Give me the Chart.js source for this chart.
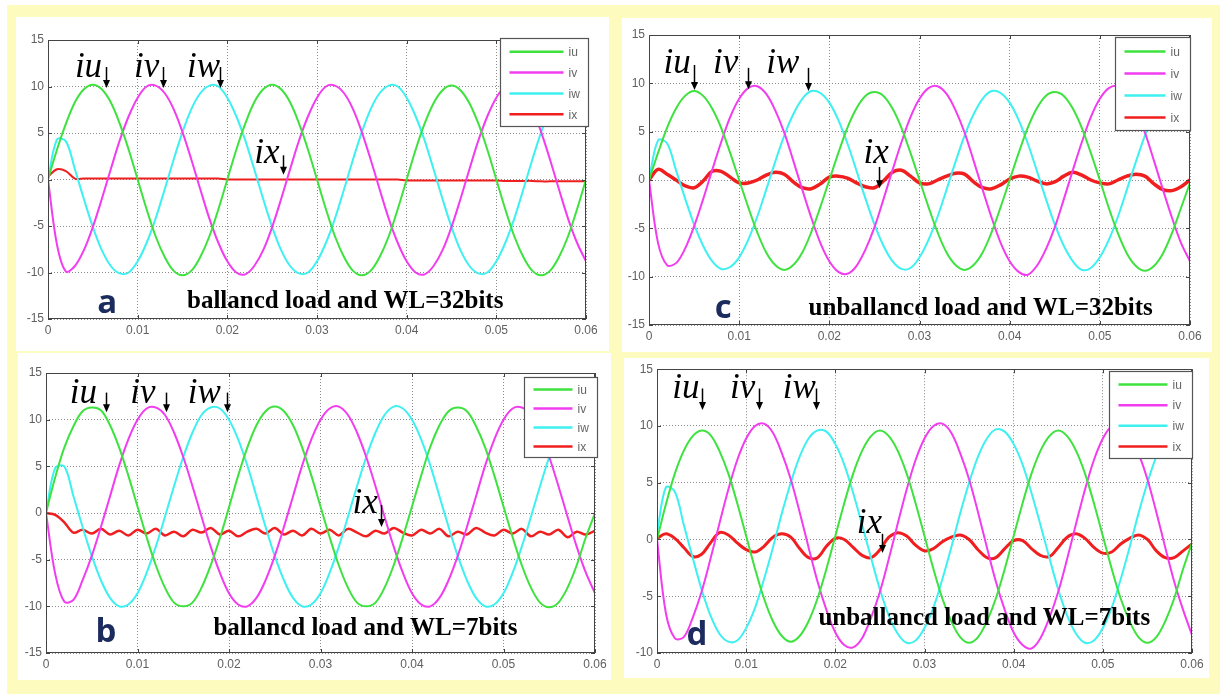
<!DOCTYPE html>
<html>
<head>
<meta charset="utf-8">
<script src="https://cdn.jsdelivr.net/npm/chart.js@4.4.1/dist/chart.umd.min.js"></script>
<style>
  html, body { margin: 0; padding: 0; background: #fff; }
  #frame { position: absolute; left: 7px; top: 5px; width: 1213px; height: 689px; background: #fefbbe; }
  canvas { position: absolute; background: #fff; }
</style>
</head>
<body>
<div id="frame"></div>
<canvas id="pa"></canvas>
<canvas id="pb"></canvas>
<canvas id="pc"></canvas>
<canvas id="pd"></canvas>
<script>
// time axis (s)
const time = [0,0.001,0.002,0.003,0.004,0.005,0.006,0.007,0.008,0.009,
  0.010,0.011,0.012,0.013,0.014,0.015,0.016,0.017,0.018,0.019,
  0.020,0.021,0.022,0.023,0.024,0.025,0.026,0.027,0.028,0.029,
  0.030,0.031,0.032,0.033,0.034,0.035,0.036,0.037,0.038,0.039,
  0.040,0.041,0.042,0.043,0.044,0.045,0.046,0.047,0.048,0.049,
  0.050,0.051,0.052,0.053,0.054,0.055,0.056,0.057,0.058,0.059,0.060];

const seriesNames = ["iu", "iv", "iw", "ix"];
const xTicks = [0, 0.01, 0.02, 0.03, 0.04, 0.05, 0.06];

// (a) balanced load, WL=32bits
const aIu = [0,3.2,6.0,8.3,9.7,10.2,9.7,8.3,6.0,3.2,0,-3.2,-6.1,-8.3,-9.8,-10.3,-9.8,-8.3,-6.1,-3.2,
  0,3.2,6.0,8.3,9.7,10.2,9.7,8.3,6.0,3.2,0,-3.2,-6.1,-8.3,-9.8,-10.3,-9.8,-8.3,-6.1,-3.2,
  0,3.2,6.0,8.2,9.6,10.1,9.6,8.2,6.0,3.2,0,-3.2,-6.1,-8.3,-9.8,-10.3,-9.8,-8.3,-6.1,-3.2,0];
const aIv = [0,-7.0,-9.9,-9.3,-7.6,-5.1,-2.1,1.1,4.2,6.8,8.8,10.0,10.1,9.3,7.6,5.1,2.1,-1.1,-4.2,-6.8,
  -8.8,-10.0,-10.2,-9.3,-7.6,-5.1,-2.1,1.1,4.2,6.8,8.8,10.0,10.1,9.3,7.6,5.1,2.1,-1.1,-4.2,-6.8,
  -8.8,-10.0,-10.2,-9.3,-7.6,-5.1,-2.1,1.1,4.2,6.8,8.8,10.0,10.1,9.3,7.6,5.1,2.1,-1.1,-4.2,-6.8,-8.8];
const aIw = [0,4.3,4.1,1.1,-2.1,-5.1,-7.6,-9.3,-10.1,-10.0,-8.8,-6.8,-4.2,-1.1,2.1,5.1,7.6,9.3,10.1,10.0,
  8.8,6.8,4.2,1.1,-2.1,-5.1,-7.6,-9.3,-10.1,-10.0,-8.8,-6.8,-4.2,-1.1,2.1,5.1,7.6,9.3,10.1,10.0,
  8.8,6.8,4.2,1.1,-2.1,-5.1,-7.6,-9.3,-10.1,-10.0,-8.8,-6.8,-4.2,-1.1,2.1,5.1,7.6,9.3,10.1,10.0,8.8];
const aIx = [0.3,1.1,0.9,0.1,0.1,0.1,0.1,0.1,0.1,0.1,0.1,0.1,0.1,0.1,0.1,0.1,0.1,0.1,0.1,0.1,
  0,0,0,0,0,0,0,0,0,0,0,0,0,0,0,0,0,0,0,0,
  -0.1,-0.1,-0.1,-0.1,-0.1,-0.1,-0.1,-0.1,-0.1,-0.1,-0.1,-0.15,-0.15,-0.15,-0.15,-0.2,-0.2,-0.2,-0.2,-0.2,-0.2];

// (b) balanced load, WL=7bits
const bIu = [0,3.8,7.0,9.3,10.9,11.3,11.0,9.4,7.0,4.0,0.7,-2.6,-5.6,-8.0,-9.6,-10.0,-9.6,-8.0,-5.6,-2.7,
  0.6,4.0,7.0,9.4,10.9,11.4,10.9,9.4,7.0,4.0,0.7,-2.6,-5.6,-8.0,-9.6,-10.0,-9.6,-8.0,-5.6,-2.6,
  0.7,4.0,7.1,9.4,10.9,11.3,10.9,9.3,7.0,4.0,0.7,-2.6,-5.6,-8.0,-9.6,-10.1,-9.6,-8.0,-5.6,-2.6,0];
const bIv = [0,-6.5,-9.5,-9.3,-7.2,-4.6,-1.5,1.8,5.1,7.9,10.0,11.2,11.3,10.5,8.6,6.0,2.9,-0.4,-3.6,-6.4,
  -8.6,-9.8,-10.0,-9.1,-7.2,-4.6,-1.5,1.8,5.1,7.9,10.0,11.2,11.4,10.5,8.6,6.0,2.9,-0.4,-3.6,-6.4,
  -8.6,-9.8,-10.0,-9.1,-7.2,-4.6,-1.5,1.8,5.1,7.9,10.0,11.2,11.3,10.5,8.6,6.0,2.9,-0.4,-3.6,-6.4,-8.6];
const bIw = [0,4.8,5.0,1.8,-1.5,-4.6,-7.2,-9.1,-10.0,-9.8,-8.6,-6.4,-3.6,-0.4,2.9,6.0,8.6,10.5,11.3,11.2,
  10.0,7.9,5.1,1.8,-1.5,-4.6,-7.2,-9.1,-10.0,-9.8,-8.6,-6.4,-3.6,-0.4,2.9,6.0,8.6,10.5,11.4,11.2,
  10.0,7.9,5.1,1.8,-1.5,-4.6,-7.2,-9.1,-10.0,-9.8,-8.6,-6.4,-3.6,-0.4,2.9,6.0,8.6,10.5,11.3,11.2,10.0];
const bIx = [0,-0.2,-1.0,-2.1,-1.8,-2.2,-1.7,-2.3,-1.9,-2.4,-1.8,-2.2,-1.7,-2.4,-2.0,-2.5,-1.8,-2.1,-1.6,-2.3,
  -1.9,-2.5,-2.0,-1.7,-2.2,-1.6,-2.3,-1.9,-2.4,-1.7,-2.2,-1.8,-2.4,-1.7,-2.1,-2.5,-1.9,-2.2,-1.6,-2.1,
  -2.4,-1.8,-2.2,-1.7,-2.5,-2.0,-2.3,-1.6,-2.1,-2.4,-1.8,-2.2,-1.7,-2.5,-2.0,-2.3,-1.8,-2.6,-2.0,-2.3,-1.9];

// (c) unbalanced load, WL=32bits
const cIu = [0,2.8,5.4,7.4,8.7,9.2,8.7,7.4,5.4,2.8,0,-2.8,-5.4,-7.5,-8.8,-9.3,-8.8,-7.5,-5.4,-2.8,
  0,2.8,5.4,7.4,8.7,9.1,8.7,7.4,5.4,2.8,0,-2.8,-5.4,-7.5,-8.8,-9.3,-8.8,-7.5,-5.4,-2.8,
  0,2.8,5.4,7.4,8.7,9.1,8.7,7.4,5.4,2.8,0,-2.9,-5.5,-7.6,-8.9,-9.4,-8.9,-7.6,-5.5,-2.9,-0.3];
const cIv = [0,-6.5,-8.8,-8.6,-7.1,-4.8,-2.0,1.0,3.9,6.5,8.4,9.5,9.7,8.9,7.2,4.9,2.0,-1.0,-3.9,-6.5,
  -8.4,-9.5,-9.7,-8.9,-7.2,-4.9,-2.0,1.0,3.9,6.5,8.4,9.5,9.7,8.9,7.2,4.9,2.0,-1.0,-3.9,-6.5,
  -8.4,-9.5,-9.8,-8.9,-7.2,-4.9,-2.0,1.0,3.9,6.5,8.4,9.5,9.7,8.9,7.2,4.9,2.0,-1.0,-3.9,-6.5,-8.4];
const cIw = [0,4.1,3.8,1.0,-1.9,-4.6,-6.8,-8.4,-9.2,-9.0,-8.0,-6.2,-3.8,-1.0,1.9,4.6,6.8,8.4,9.2,9.0,
  8.0,6.2,3.8,1.0,-1.9,-4.6,-6.8,-8.4,-9.2,-9.1,-8.0,-6.2,-3.8,-1.0,1.9,4.6,6.8,8.4,9.2,9.0,
  8.0,6.2,3.8,1.0,-1.9,-4.6,-6.8,-8.4,-9.3,-9.1,-8.0,-6.2,-3.8,-1.0,1.9,4.6,6.8,8.4,9.2,9.0,8.0];
const cIx = [0,1.1,0.6,0,-0.6,-0.8,-0.1,0.9,0.9,0.3,-0.3,-0.3,0,0.5,0.8,0.6,-0.2,-0.8,-0.9,-0.4,
  0.3,0.4,0.2,-0.3,-0.7,-0.8,-0.1,0.8,1.0,0.4,-0.3,-0.4,0,0.4,0.7,0.6,-0.2,-0.8,-0.9,-0.5,
  0.1,0.4,0.3,-0.1,-0.4,-0.2,0.4,0.8,0.5,0,-0.3,-0.4,0,0.4,0.6,0.4,-0.4,-1.0,-1.1,-0.7,0];

// (d) unbalanced load, WL=7bits
const dIu = [0,3.1,5.8,7.8,9.1,9.6,9.2,7.8,5.8,3.2,0.3,-2.6,-5.2,-7.2,-8.5,-9.0,-8.5,-7.2,-5.2,-2.6,
  0.3,3.2,5.8,7.8,9.1,9.6,9.1,7.8,5.8,3.2,0.3,-2.6,-5.2,-7.2,-8.6,-9.1,-8.6,-7.2,-5.2,-2.6,
  0.3,3.2,5.8,7.8,9.1,9.6,9.1,7.8,5.8,3.2,0.3,-2.6,-5.2,-7.2,-8.6,-9.1,-8.6,-7.2,-5.2,-2.6,-0.3];
const dIv = [0,-6.5,-8.7,-8.6,-6.9,-4.6,-1.7,1.4,4.4,7.0,8.9,10.0,10.2,9.4,7.6,5.3,2.4,-0.7,-3.7,-6.2,
  -8.2,-9.3,-9.5,-8.7,-6.9,-4.6,-1.7,1.4,4.4,7.0,8.9,10.0,10.2,9.4,7.6,5.3,2.4,-0.7,-3.7,-6.2,
  -8.2,-9.3,-9.6,-8.7,-6.9,-4.6,-1.7,1.4,4.4,7.0,8.9,10.0,10.2,9.4,7.6,5.3,2.4,-0.7,-3.7,-6.2,-8.4];
const dIw = [0.5,4.6,4.2,1.3,-1.6,-4.4,-6.7,-8.3,-9.0,-8.9,-7.8,-6.0,-3.5,-0.7,2.3,5.0,7.3,8.9,9.6,9.5,
  8.4,6.6,4.1,1.3,-1.6,-4.4,-6.7,-8.3,-9.1,-8.9,-7.8,-6.0,-3.5,-0.7,2.3,5.0,7.3,8.9,9.7,9.5,
  8.4,6.6,4.1,1.3,-1.6,-4.4,-6.7,-8.3,-9.1,-8.9,-7.8,-6.0,-3.5,-0.7,2.3,5.0,7.3,8.9,9.6,9.5,8.4];
const dIx = [0.1,0.5,0.1,-0.7,-1.5,-1.3,-0.3,0.6,0.4,-0.3,-0.9,-1.1,-0.6,0.2,0.5,0.2,-0.8,-1.6,-1.6,-0.6,
  0.1,0.0,-0.7,-1.4,-1.6,-0.9,0.2,0.6,0.3,-0.5,-1.0,-0.8,-0.2,0.2,0.4,0.0,-0.9,-1.6,-1.6,-0.8,
  -0.1,-0.1,-0.8,-1.4,-1.5,-0.7,0.2,0.5,0.1,-0.7,-1.2,-1.1,-0.4,0.1,0.4,0.0,-1.0,-1.6,-1.6,-1.0,-0.4];

const colors = ["#3ee23e", "#f23cf0", "#3ef0f0", "#f01e1e"];

const panels = [
  { id: "pa", box: [16, 17, 593, 334], pad: { l: 32, t: 23, r: 23, b: 32 }, yMin: -15,
    series: [aIu, aIv, aIw, aIx], widths: [2, 2, 2, 2],
    legend: { w: 88, h: 88, dx: 2, dy: -2 },
    notes: [
      { text: "iu", x: 0.0030, y: 11.0, ax: 0.0065, ay0: 12.1, ay1: 9.85 },
      { text: "iv", x: 0.0096, y: 11.0, ax: 0.0128, ay0: 12.1, ay1: 9.85 },
      { text: "iw", x: 0.0155, y: 11.0, ax: 0.0192, ay0: 12.1, ay1: 9.85 },
      { text: "ix", x: 0.0230, y: 1.8, ax: 0.0262, ay0: 2.6, ay1: 0.5 }
    ],
    letter: { text: "a", x: 0.0055, y: -14.35 },
    caption: { text: "ballancd load and WL=32bits", x: 0.0155, y: -13.8 } },
  { id: "pb", box: [18, 353, 593, 327], pad: { l: 28, t: 20, r: 16, b: 27 }, yMin: -15,
    series: [bIu, bIv, bIw, bIx], widths: [2, 2, 2, 2.5],
    legend: { w: 73, h: 80, dx: 2, dy: 4 },
    notes: [
      { text: "iu", x: 0.0026, y: 11.8, ax: 0.0066, ay0: 12.9, ay1: 10.8 },
      { text: "iv", x: 0.0092, y: 11.8, ax: 0.0131, ay0: 12.9, ay1: 10.8 },
      { text: "iw", x: 0.0155, y: 11.8, ax: 0.0198, ay0: 12.9, ay1: 10.8 },
      { text: "ix", x: 0.0335, y: 0.0, ax: 0.0366, ay0: 0.85, ay1: -1.5 }
    ],
    letter: { text: "b", x: 0.0054, y: -13.8 },
    caption: { text: "ballancd load and WL=7bits", x: 0.0183, y: -13.1 } },
  { id: "pc", box: [622, 18, 590, 334], pad: { l: 27, t: 17, r: 22, b: 27 }, yMin: -15,
    series: [cIu, cIv, cIw, cIx], widths: [2, 2, 2, 3.5],
    legend: { w: 75, h: 93, dx: 0, dy: 2 },
    notes: [
      { text: "iu", x: 0.0016, y: 11.05, ax: 0.0050, ay0: 11.9, ay1: 9.3 },
      { text: "iv", x: 0.0071, y: 11.05, ax: 0.0110, ay0: 11.6, ay1: 9.4 },
      { text: "iw", x: 0.0130, y: 11.05, ax: 0.0176, ay0: 11.6, ay1: 9.2 },
      { text: "ix", x: 0.0238, y: 1.75, ax: 0.0255, ay0: 1.35, ay1: -0.85 }
    ],
    letter: { text: "c", x: 0.0073, y: -14.3 },
    caption: { text: "unballancd load and WL=32bits", x: 0.0177, y: -13.95 } },
  { id: "pd", box: [624, 358, 585, 320], pad: { l: 33, t: 10, r: 17, b: 25 }, yMin: -10,
    series: [dIu, dIv, dIw, dIx], widths: [2, 2, 2, 3],
    legend: { w: 83, h: 87, dx: 0, dy: 2 },
    notes: [
      { text: "iu", x: 0.0017, y: 12.45, ax: 0.0050, ay0: 13.3, ay1: 11.4 },
      { text: "iv", x: 0.0082, y: 12.45, ax: 0.0114, ay0: 13.3, ay1: 11.4 },
      { text: "iw", x: 0.0141, y: 12.45, ax: 0.0178, ay0: 13.3, ay1: 11.4 },
      { text: "ix", x: 0.0224, y: 0.6, ax: 0.0252, ay0: 0.5, ay1: -1.2 }
    ],
    letter: { text: "d", x: 0.0033, y: -9.3 },
    caption: { text: "unballancd load and WL=7bits", x: 0.0181, y: -7.55 } }
];

// box, inner ticks, legend and text marks drawn over the lines
const decor = {
  id: "decor",
  afterDatasetsDraw(chart) {
    const p = chart.options.plugins.decor;
    const { ctx, chartArea: a, scales: { x, y } } = chart;
    ctx.save();

    ctx.strokeStyle = "#444";
    ctx.lineWidth = 1;
    ctx.beginPath();
    x.ticks.forEach(t => {
      const px = Math.round(x.getPixelForValue(t.value)) + 0.5;
      ctx.moveTo(px, a.bottom); ctx.lineTo(px, a.bottom - 4);
      ctx.moveTo(px, a.top); ctx.lineTo(px, a.top + 4);
    });
    y.ticks.forEach(t => {
      const py = Math.round(y.getPixelForValue(t.value)) + 0.5;
      ctx.moveTo(a.left, py); ctx.lineTo(a.left + 4, py);
      ctx.moveTo(a.right, py); ctx.lineTo(a.right - 4, py);
    });
    ctx.stroke();
    ctx.strokeRect(Math.round(a.left) + 0.5, Math.round(a.top) + 0.5,
      Math.round(a.width) - 1, Math.round(a.height) - 1);

    // legend
    const lg = p.legend;
    const lx = Math.round(a.right + lg.dx - lg.w) + 0.5;
    const ly = Math.round(a.top + lg.dy) + 0.5;
    ctx.fillStyle = "#fff";
    ctx.fillRect(lx, ly, lg.w, lg.h);
    ctx.strokeStyle = "#555";
    ctx.lineWidth = 1.2;
    ctx.strokeRect(lx, ly, lg.w, lg.h);
    ctx.font = '12px "Liberation Sans", Arial, sans-serif';
    ctx.textBaseline = "middle";
    ctx.textAlign = "left";
    chart.data.datasets.forEach((ds, i) => {
      const ry = ly + lg.h * (0.15 + i * 0.237);
      ctx.strokeStyle = ds.borderColor;
      ctx.lineWidth = 2.5;
      ctx.beginPath();
      ctx.moveTo(lx + 9, ry);
      ctx.lineTo(lx + lg.w - 25, ry);
      ctx.stroke();
      ctx.fillStyle = "#666";
      ctx.fillText(ds.label, lx + lg.w - 20, ry + 1);
    });

    // labels with arrows
    ctx.textBaseline = "alphabetic";
    ctx.fillStyle = "#000";
    ctx.strokeStyle = "#000";
    ctx.font = 'italic 35px "Liberation Serif", "Times New Roman", serif';
    p.notes.forEach(n => {
      ctx.fillText(n.text, x.getPixelForValue(n.x), y.getPixelForValue(n.y));
      const ax = Math.round(x.getPixelForValue(n.ax)) + 0.5;
      const y0 = y.getPixelForValue(n.ay0);
      const y1 = y.getPixelForValue(n.ay1);
      ctx.lineWidth = 1.5;
      ctx.beginPath();
      ctx.moveTo(ax, y0);
      ctx.lineTo(ax, y1 - 6);
      ctx.stroke();
      ctx.beginPath();
      ctx.moveTo(ax - 3.5, y1 - 8);
      ctx.lineTo(ax + 3.5, y1 - 8);
      ctx.lineTo(ax, y1);
      ctx.closePath();
      ctx.fill();
    });

    ctx.font = 'bold 33px "Open Sans", "Liberation Sans", sans-serif';
    ctx.fillStyle = "#1c2b5e";
    ctx.fillText(p.letter.text, x.getPixelForValue(p.letter.x), y.getPixelForValue(p.letter.y));

    ctx.font = 'bold 25px "Liberation Serif", "Times New Roman", serif';
    ctx.fillStyle = "#000";
    ctx.fillText(p.caption.text, x.getPixelForValue(p.caption.x), y.getPixelForValue(p.caption.y));

    ctx.restore();
  }
};

const tickFont = { family: '"Liberation Sans", Arial, sans-serif', size: 12 };

panels.forEach(pn => {
  const cv = document.getElementById(pn.id);
  cv.width = pn.box[2];
  cv.height = pn.box[3];
  cv.style.left = pn.box[0] + "px";
  cv.style.top = pn.box[1] + "px";

  const datasets = pn.series.map((vals, i) => ({
    label: seriesNames[i],
    data: time.map((t, k) => ({ x: t, y: vals[k] })),
    borderColor: colors[i],
    borderWidth: pn.widths[i],
    pointRadius: 0,
    tension: 0.35,
    fill: false
  }));

  new Chart(cv, {
    type: "line",
    data: { datasets },
    options: {
      responsive: false,
      animation: false,
      events: [],
      layout: { padding: { left: 0, top: pn.pad.t, right: pn.pad.r, bottom: 0 } },
      plugins: {
        legend: { display: false },
        tooltip: { enabled: false },
        decor: pn
      },
      scales: {
        x: {
          type: "linear",
          min: 0, max: 0.06,
          afterBuildTicks(s) { s.ticks = xTicks.map(v => ({ value: v })); },
          afterFit(s) { s.height = pn.pad.b; },
          ticks: {
            font: tickFont, color: "#606060", padding: 4, maxRotation: 0,
            callback: v => (v === 0 ? "0" : v.toFixed(2))
          },
          grid: { color: "#8c8c8c", lineWidth: 1, drawTicks: false },
          border: { display: false, dash: [1, 2] }
        },
        y: {
          min: pn.yMin, max: 15,
          afterFit(s) { s.width = pn.pad.l; },
          ticks: { stepSize: 5, font: tickFont, color: "#606060", padding: 4 },
          grid: { color: "#8c8c8c", lineWidth: 1, drawTicks: false },
          border: { display: false, dash: [1, 2] }
        }
      }
    },
    plugins: [decor]
  });
});
</script>
</body>
</html>
